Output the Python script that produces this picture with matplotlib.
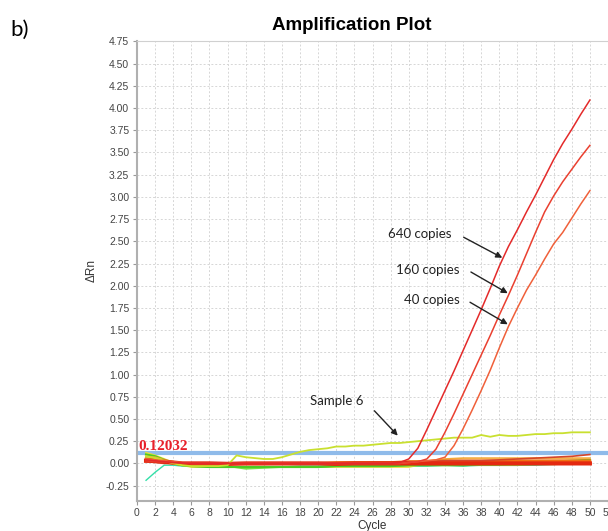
import matplotlib
matplotlib.use("Agg")
import matplotlib.pyplot as plt
import numpy as np

# amplification curves (cycle, delta Rn)
amp_cycles = [1, 2, 4, 6, 10, 15, 20, 25, 28, 29, 30, 31, 32, 33, 34, 35, 36, 37, 38, 39,
              40, 41, 42, 43, 44, 45, 46, 47, 48, 49, 50]
copies_640 = [0.04, 0.03, 0.01, 0.0, 0.0, 0.0, 0.0, 0.0, 0.0, 0.01, 0.05, 0.17, 0.38, 0.6,
              0.82, 1.04, 1.27, 1.5, 1.73, 1.97, 2.22, 2.44, 2.63, 2.83, 3.02, 3.22, 3.42,
              3.6, 3.76, 3.93, 4.09]
copies_160 = [0.03, 0.02, 0.01, 0.0, 0.0, 0.0, 0.0, 0.0, 0.0, 0.0, 0.01, 0.02, 0.05, 0.16,
              0.35, 0.56, 0.78, 1.0, 1.22, 1.44, 1.67, 1.89, 2.12, 2.36, 2.6, 2.83, 3.01,
              3.17, 3.31, 3.45, 3.58]
copies_40 = [0.05, 0.04, 0.02, 0.0, 0.0, 0.0, 0.0, 0.0, 0.0, 0.0, 0.01, 0.02, 0.03, 0.04,
             0.07, 0.2, 0.39, 0.6, 0.82, 1.05, 1.3, 1.54, 1.75, 1.95, 2.12, 2.3, 2.47, 2.6,
             2.76, 2.92, 3.07]

# sample 6 (non-specific rise)
s6_cycles = list(range(1, 51))
sample_6 = [0.08, 0.06, 0.03, 0.0, -0.02, -0.03, -0.03, -0.03, -0.03, -0.02, 0.09, 0.07,
            0.06, 0.05, 0.05, 0.07, 0.10, 0.13, 0.15, 0.16, 0.17, 0.19, 0.19, 0.20, 0.20,
            0.21, 0.22, 0.23, 0.23, 0.24, 0.25, 0.26, 0.27, 0.28, 0.29, 0.29, 0.29, 0.32,
            0.30, 0.32, 0.31, 0.31, 0.32, 0.33, 0.33, 0.34, 0.34, 0.35, 0.35, 0.35]

# negative / background wells
bg_cycles = [1, 2, 3, 4, 5, 6, 8, 10, 12, 14, 16, 18, 20, 22, 24, 26, 28, 30, 32, 34, 36,
             38, 40, 42, 44, 46, 48, 50]
bg_yellow = [0.12, 0.09, 0.05, 0.01, -0.02, -0.04, -0.04, -0.04, -0.04, -0.04, -0.04, -0.04,
             -0.04, -0.04, -0.04, -0.04, -0.04, -0.04, 0.0, 0.01, 0.01, 0.02, 0.02, 0.02,
             0.02, 0.03, 0.03, 0.03]
bg_cyan = [-0.19, -0.1, -0.02, -0.02, -0.03, -0.03, -0.03, -0.04, -0.04, -0.04, -0.04, -0.03,
           -0.03, -0.03, -0.03, -0.03, -0.03, -0.03, -0.03, -0.02, -0.03, -0.02, -0.02, -0.02,
           -0.02, -0.01, -0.01, -0.01]
bg_green = [0.10, 0.08, 0.04, 0.0, -0.02, -0.03, -0.04, -0.04, -0.04, -0.04, -0.04, -0.04,
            -0.04, -0.03, -0.03, -0.03, -0.03, -0.02, -0.02, -0.02, -0.02, -0.01, -0.01, 0.0,
            0.01, 0.02, 0.03, 0.04]
bg_lightgreen = [0.06, 0.05, 0.03, 0.0, -0.02, -0.03, -0.03, -0.03, -0.06, -0.05, -0.04,
                 -0.04, -0.04, -0.03, -0.03, -0.03, -0.03, -0.02, -0.02, -0.02, -0.02, -0.02,
                 -0.02, -0.02, -0.01, -0.01, 0.0, 0.01]
bg_lightorange = [0.08, 0.07, 0.04, 0.02, 0.0, -0.01, -0.01, -0.01, -0.01, -0.01, 0.0, 0.0,
                  0.0, 0.0, 0.01, 0.01, 0.01, 0.02, 0.03, 0.05, 0.06, 0.06, 0.06, 0.06, 0.06,
                  0.06, 0.06, 0.06]
bg_orange = [0.05, 0.04, 0.02, 0.0, -0.01, -0.01, -0.01, 0.0, 0.0, 0.0, 0.0, 0.0, 0.0, 0.01,
             0.01, 0.01, 0.01, 0.02, 0.02, 0.03, 0.03, 0.03, 0.03, 0.03, 0.03, 0.03, 0.03, 0.03]
bg_redrise = [0.02, 0.01, 0.0, 0.0, 0.0, -0.01, -0.01, -0.01, 0.0, 0.0, 0.0, 0.0, 0.0, 0.0,
              0.0, 0.01, 0.01, 0.02, 0.02, 0.03, 0.03, 0.03, 0.04, 0.05, 0.06, 0.07, 0.08, 0.1]
bg_red = [0.03, 0.03, 0.02, 0.01, 0.0, 0.0, 0.0, -0.005, 0.0, 0.0, 0.0, 0.0, 0.0, -0.005,
          0.0, 0.0, 0.0, 0.0, 0.0, 0.0, 0.0, 0.0, 0.0, 0.0, 0.0, 0.0, 0.0, 0.0]

threshold = 0.12032

fig = plt.figure(figsize=(6.08, 5.31), dpi=100)
ax = fig.add_axes([137 / 608, 0.057, 1 - 137 / 608, 0.8667])

grid_kw = dict(color="#d6d6d6", linewidth=0.7, linestyle=(0, (2, 2)), zorder=0)
for x in range(2, 53, 2):
    ax.axvline(x, **grid_kw)
for y in np.arange(-0.25, 4.8, 0.25):
    ax.axhline(y, **grid_kw)

ax.axhline(threshold, color="#8fbbea", linewidth=3, zorder=1)

bg = [(bg_cyan, "#33dfa8", 1.0), (bg_yellow, "#e6e03a", 1.3),
      (bg_lightgreen, "#78e048", 1.3), (bg_green, "#4ccc22", 1.6),
      (bg_lightorange, "#f4a838", 1.2), (bg_orange, "#f07012", 2.0),
      (bg_redrise, "#d4452a", 1.2), (bg_red, "#e42810", 3.0)]
for vals, col, lw in bg:
    ax.plot(bg_cycles, vals, color=col, linewidth=lw, zorder=2)

ax.plot(s6_cycles, sample_6, color="#c9e030", linewidth=1.3, zorder=3)
ax.plot(amp_cycles, copies_40, color="#f0603a", linewidth=1.1, zorder=4)
ax.plot(amp_cycles, copies_160, color="#ea4030", linewidth=1.1, zorder=4)
ax.plot(amp_cycles, copies_640, color="#e42a2a", linewidth=1.1, zorder=4)

ax.text(0.2, threshold - 0.005, "0.12032", color="#e8202a", fontsize=11,
        fontweight="bold", family="Liberation Serif", va="bottom", ha="left", zorder=5)

ax.set_xlim(0, 52)
ax.set_ylim(-0.42, 4.76)
ax.set_xticks(range(0, 53, 2))
ax.set_yticks(np.arange(-0.25, 4.8, 0.25))
ax.set_yticklabels([f"{v:.2f}" for v in np.arange(-0.25, 4.8, 0.25)])
ax.tick_params(labelsize=7.5, colors="#999999", labelcolor="#444444", length=3, width=0.8,
               pad=2.5)
for lab in ax.get_xticklabels() + ax.get_yticklabels():
    lab.set_family("Liberation Sans")

for s in ["left", "bottom"]:
    ax.spines[s].set_color("#b0b0b0")
    ax.spines[s].set_linewidth(1.5)
ax.spines["top"].set_color("#d0d0d0")
ax.spines["top"].set_linewidth(0.8)
ax.spines["right"].set_visible(False)

ax.set_xlabel("Cycle", fontsize=8.5, family="Liberation Sans", color="#333333", labelpad=1)
ax.set_ylabel("\u0394Rn", fontsize=8.5, family="Liberation Sans", color="#333333", labelpad=6)

fig.text(352 / 608, 1 - 25 / 531, "Amplification Plot", fontsize=13.5, fontweight="bold",
         family="Liberation Sans", ha="center", va="center")
fig.text(10 / 608, 1 - 30 / 531, "b)", fontsize=16, family="Lato", ha="left", va="center")

arrow = dict(arrowstyle="-|>", color="#222222", lw=1.0, mutation_scale=9)
notes = [("640 copies", (31.2, 2.58), (35.8, 2.56), (40.6, 2.30)),
         ("160 copies", (32.1, 2.18), (36.6, 2.17), (41.2, 1.90)),
         ("40 copies", (32.5, 1.84), (36.5, 1.83), (41.2, 1.55)),
         ("Sample 6", (22.1, 0.70), (26.0, 0.615), (29.0, 0.29))]
for txt, tpos, tail, head in notes:
    ax.text(tpos[0], tpos[1], txt, fontsize=9.5, family="Lato", ha="center", va="center",
            color="#222222", zorder=6)
    ax.annotate("", xy=head, xytext=tail, arrowprops=arrow, zorder=6)

fig.savefig("out.png", dpi=100)
